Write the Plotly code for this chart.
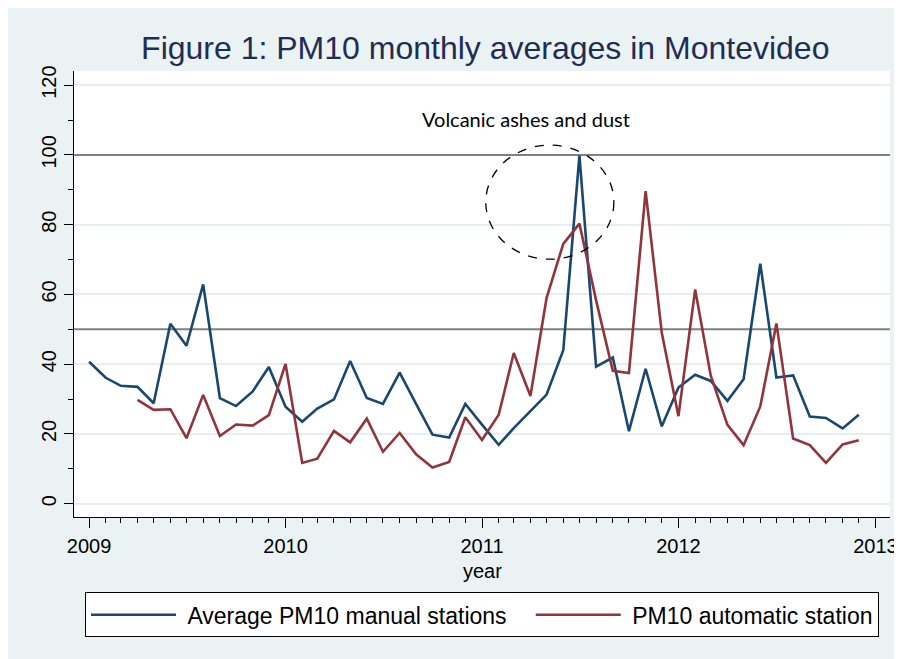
import pandas as pd
import plotly.graph_objects as go

# ---- data (monthly averages, Jan 2009 - Dec 2012) ----
months = pd.date_range("2009-01-01", periods=48, freq="MS")

manual_pm10 = [
    40.7, 36.1, 33.8, 33.5, 28.8, 51.6, 45.3, 62.9, 30.3, 28.0, 32.2, 39.2,
    27.8, 23.5, 27.3, 29.9, 40.9, 30.3, 28.6, 37.6, 28.5, 19.8, 19.0, 28.6,
    22.7, 16.9, 21.7, 26.5, 31.3, 44.0, 99.8, 39.3, 41.9, 20.8, 38.7, 22.2,
    33.3, 37.0, 35.2, 29.5, 35.7, 68.8, 36.2, 36.8, 25.0, 24.6, 21.6, 25.5,
]

automatic_pm10 = [
    None, None, None, 29.8, 26.9, 27.1, 18.8, 31.2, 19.4, 22.7, 22.4, 25.4,
    40.1, 11.7, 12.9, 20.9, 17.6, 24.4, 14.9, 20.3, 14.1, 10.4, 12.0, 24.8,
    18.3, 25.5, 43.2, 30.9, 59.0, 74.5, 80.3, 58.3, 38.1, 37.5, 89.6, 49.0,
    25.1, 61.4, 36.7, 22.6, 16.8, 27.9, 51.7, 18.7, 16.8, 11.7, 17.0, 18.2,
]

series_names = ["Average PM10 manual stations", "PM10 automatic station"]
reference_levels = [100, 50]
y_ticks = [0, 20, 40, 60, 80, 100, 120]
x_range = ["2008-12-04", "2013-01-28"]
title_text = "Figure 1: PM10 monthly averages in Montevideo"
note_text = "Volcanic ashes and dust"
x_title = "year"

BLUE = "#1a476f"
RED = "#90353b"
BG = "#eaf2f3"
FONT = "Liberation Sans, Arial, sans-serif"
NB = "\u00a0"

fig = go.Figure()
fig.add_trace(go.Scatter(x=months, y=manual_pm10, mode="lines",
                         name=NB + series_names[0] + NB * 3,
                         line=dict(color=BLUE, width=2.6)))
fig.add_trace(go.Scatter(x=months, y=automatic_pm10, mode="lines",
                         name=NB + series_names[1],
                         line=dict(color=RED, width=2.6), connectgaps=False))

# reference lines (above gridlines, below the data)
for lvl in reference_levels:
    fig.add_shape(type="line", xref="x", x0=x_range[0], x1=x_range[1], yref="y", y0=lvl, y1=lvl,
                  line=dict(color="#808080", width=2), layer="between")

# dashed ellipse around volcanic peak
fig.add_shape(type="circle", xref="x", yref="y",
              x0="2011-01-08", x1="2011-09-03", y0=70.1, y1=102.8,
              line=dict(color="black", width=1.3, dash="dash"), layer="above")

fig.add_annotation(x="2011-03-23", y=110.3, xref="x", yref="y", text=note_text,
                   showarrow=False,
                   font=dict(family="Lato, Noto Sans, sans-serif", size=20, color="black"))

# x-axis title
fig.add_annotation(x=0.5, y=-0.1200, xref="paper", yref="paper", text=x_title,
                   showarrow=False, yanchor="middle",
                   font=dict(family=FONT, size=20, color="black"))

fig.update_layout(
    width=902, height=659,
    margin=dict(l=66, r=20, t=63, b=150),
    paper_bgcolor=BG, plot_bgcolor="white",
    font=dict(family=FONT, color="black"),
    title=dict(text=title_text, x=0.504, xanchor="center", xref="paper",
               y=1 - 40 / 659, yanchor="middle",
               font=dict(family=FONT, size=32, color="#1f2d55")),
    showlegend=True,
    legend=dict(orientation="h", x=0.5, xanchor="center", y=-0.1688, yanchor="top",
                bgcolor="white", bordercolor="black", borderwidth=1,
                font=dict(family=FONT, size=23, color="black"),
                itemwidth=85),
)

fig.update_xaxes(
    range=x_range,
    tickmode="linear", tick0="2009-01-01", dtick="M12", tickformat="%Y",
    ticks="outside", ticklen=10, tickcolor="black", tickwidth=1,
    minor=dict(dtick="M1", tick0="2009-01-01", ticks="outside", ticklen=5,
               tickcolor="black", showgrid=False),
    showgrid=False, zeroline=False,
    showline=True, linecolor="black", linewidth=1,
    tickfont=dict(family=FONT, size=20, color="black"),
    ticklabelstandoff=1,
)

fig.update_yaxes(
    range=[-3.8, 124.05],
    tickmode="array", tickvals=y_ticks, ticktext=[str(v) for v in y_ticks],
    tickangle=-90,
    ticks="outside", ticklen=9, tickcolor="black", tickwidth=1,
    minor=dict(dtick=10, tick0=0, ticks="outside", ticklen=5, tickcolor="black",
               showgrid=False),
    showgrid=True, gridcolor="#e6eef0", gridwidth=2,
    zeroline=False, showline=True, linecolor="black", linewidth=1,
    tickfont=dict(family=FONT, size=20, color="black"),
)

fig.write_html("out.html")
